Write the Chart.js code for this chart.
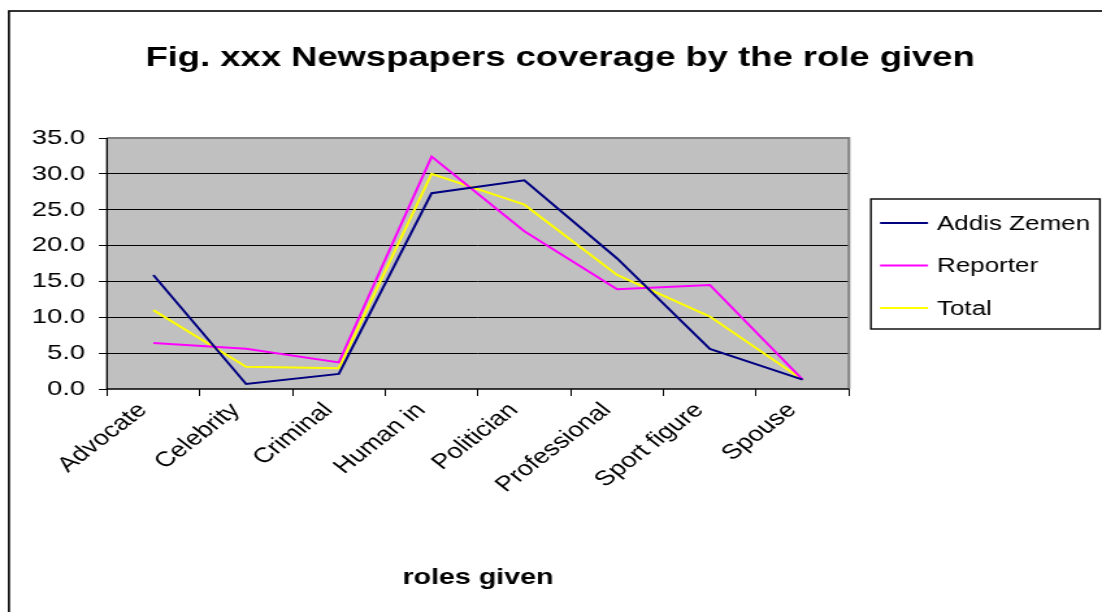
<!DOCTYPE html>
<html>
<head>
<meta charset="utf-8">
<script src="https://cdn.jsdelivr.net/npm/chart.js@4/dist/chart.umd.min.js"></script>
<style>
  html, body { margin: 0; padding: 0; background: #fff; overflow: hidden; }
  #c { display: block; }
</style>
</head>
<body>
<!-- The reference picture is horizontally stretched; the canvas is drawn narrower and shown at 1102px wide -->
<canvas id="c" width="848" height="612" style="width:1102px;height:612px;"></canvas>
<script>
const titleText = 'Fig. xxx Newspapers coverage by the role given';
const xAxisTitle = 'roles given';
const categories = ['Advocate', 'Celebrity', 'Criminal', 'Human in', 'Politician', 'Professional', 'Sport figure', 'Spouse'];
const addisZemen = [15.9, 0.7, 2.1, 27.3, 29.1, 18.2, 5.6, 1.3];
const reporter = [6.4, 5.6, 3.7, 32.4, 22.0, 13.9, 14.5, 1.3];
const total = [11.0, 3.1, 2.9, 30.0, 25.7, 15.9, 10.1, 1.3];
const seriesNames = ['Addis Zemen', 'Reporter', 'Total'];
const seriesColors = ['#000080', '#FF00FF', '#FFFF00'];
const yTicks = [0, 5, 10, 15, 20, 25, 30, 35];

const FONT = 'Arial, "Liberation Sans", sans-serif';

const decor = {
  id: 'decor',
  beforeDraw(chart) {
    const ctx = chart.ctx;
    const a = chart.chartArea;
    ctx.save();
    ctx.fillStyle = '#ffffff';
    ctx.fillRect(0, 0, chart.width, chart.height);
    ctx.fillStyle = '#C0C0C0';
    ctx.fillRect(a.left, a.top, a.right - a.left, a.bottom - a.top);
    ctx.restore();
  },
  afterDraw(chart) {
    const ctx = chart.ctx;
    const a = chart.chartArea;
    ctx.save();
    // plot border (grey) top/right
    ctx.strokeStyle = '#808080';
    ctx.lineWidth = 2;
    ctx.beginPath();
    ctx.moveTo(a.left, a.top);
    ctx.lineTo(a.right, a.top);
    ctx.lineTo(a.right, a.bottom);
    ctx.stroke();
    // axes
    ctx.strokeStyle = '#000000';
    ctx.lineWidth = 1.3;
    ctx.beginPath();
    ctx.moveTo(a.left, a.top);
    ctx.lineTo(a.left, a.bottom);
    ctx.lineTo(a.right, a.bottom);
    ctx.stroke();
    // outer border
    ctx.lineWidth = 1.6;
    ctx.strokeStyle = '#000000';
    ctx.strokeRect(6.9, 11, 900, 640);
    // title
    ctx.fillStyle = '#000';
    ctx.font = 'bold 28px ' + FONT;
    ctx.textAlign = 'center';
    ctx.textBaseline = 'alphabetic';
    ctx.fillText(titleText, 431, 66);
    // legend
    const lx = 670.2, ly = 199, lw = 176.2, lh = 130;
    ctx.lineWidth = 1.4;
    ctx.strokeStyle = '#000';
    ctx.strokeRect(lx, ly, lw, lh);
    ctx.font = '20px ' + FONT;
    ctx.textAlign = 'left';
    ctx.textBaseline = 'middle';
    chart.data.datasets.forEach((ds, i) => {
      const y = 223 + i * 42.5;
      ctx.strokeStyle = ds.borderColor;
      ctx.lineWidth = 2;
      ctx.beginPath();
      ctx.moveTo(677.2, y);
      ctx.lineTo(714.1, y);
      ctx.stroke();
      ctx.fillStyle = '#000';
      ctx.fillText(ds.label, 721, y + 1);
    });
    ctx.restore();
  }
};

new Chart(document.getElementById('c'), {
  type: 'line',
  data: {
    labels: categories,
    datasets: [
      { label: seriesNames[0], data: addisZemen, borderColor: seriesColors[0], backgroundColor: seriesColors[0] },
      { label: seriesNames[1], data: reporter, borderColor: seriesColors[1], backgroundColor: seriesColors[1] },
      { label: seriesNames[2], data: total, borderColor: seriesColors[2], backgroundColor: seriesColors[2] }
    ]
  },
  options: {
    responsive: false,
    animation: false,
    devicePixelRatio: 1,
    layout: { padding: { top: 138, right: 194.7, bottom: 0, left: 0 } },
    elements: {
      line: { borderWidth: 2, tension: 0 },
      point: { radius: 0, hoverRadius: 0 }
    },
    plugins: {
      legend: { display: false },
      title: { display: false },
      tooltip: { enabled: false }
    },
    scales: {
      x: {
        type: 'category',
        offset: true,
        afterFit(scale) { scale.height = 223; },
        grid: {
          offset: true,
          drawOnChartArea: false,
          drawTicks: true,
          tickLength: 7,
          color: '#000',
          lineWidth: 1
        },
        border: { display: false },
        ticks: {
          color: '#000',
          font: { family: FONT, size: 21 },
          minRotation: 45,
          maxRotation: 45,
          autoSkip: false,
          padding: 2,
          labelOffset: -8
        },
        title: {
          display: true,
          text: xAxisTitle,
          color: '#000',
          font: { family: FONT, size: 22, weight: 'bold' },
          padding: { top: 21, bottom: 21 }
        }
      },
      y: {
        min: 0,
        max: 35,
        afterFit(scale) { scale.width = 82.3; },
        afterBuildTicks(scale) { scale.ticks = yTicks.map(v => ({ value: v })); },
        grid: {
          color: (c) => (c.tick && (c.tick.value === 0 || c.tick.value === 35)) ? 'rgba(0,0,0,0)' : '#000',
          tickColor: '#000',
          lineWidth: 1,
          drawTicks: true,
          tickLength: 6.2
        },
        border: { display: false },
        ticks: {
          color: '#000',
          font: { family: FONT, size: 21 },
          padding: 10.7,
          callback: (v) => Number(v).toFixed(1)
        }
      }
    }
  },
  plugins: [decor]
});
</script>
</body>
</html>
